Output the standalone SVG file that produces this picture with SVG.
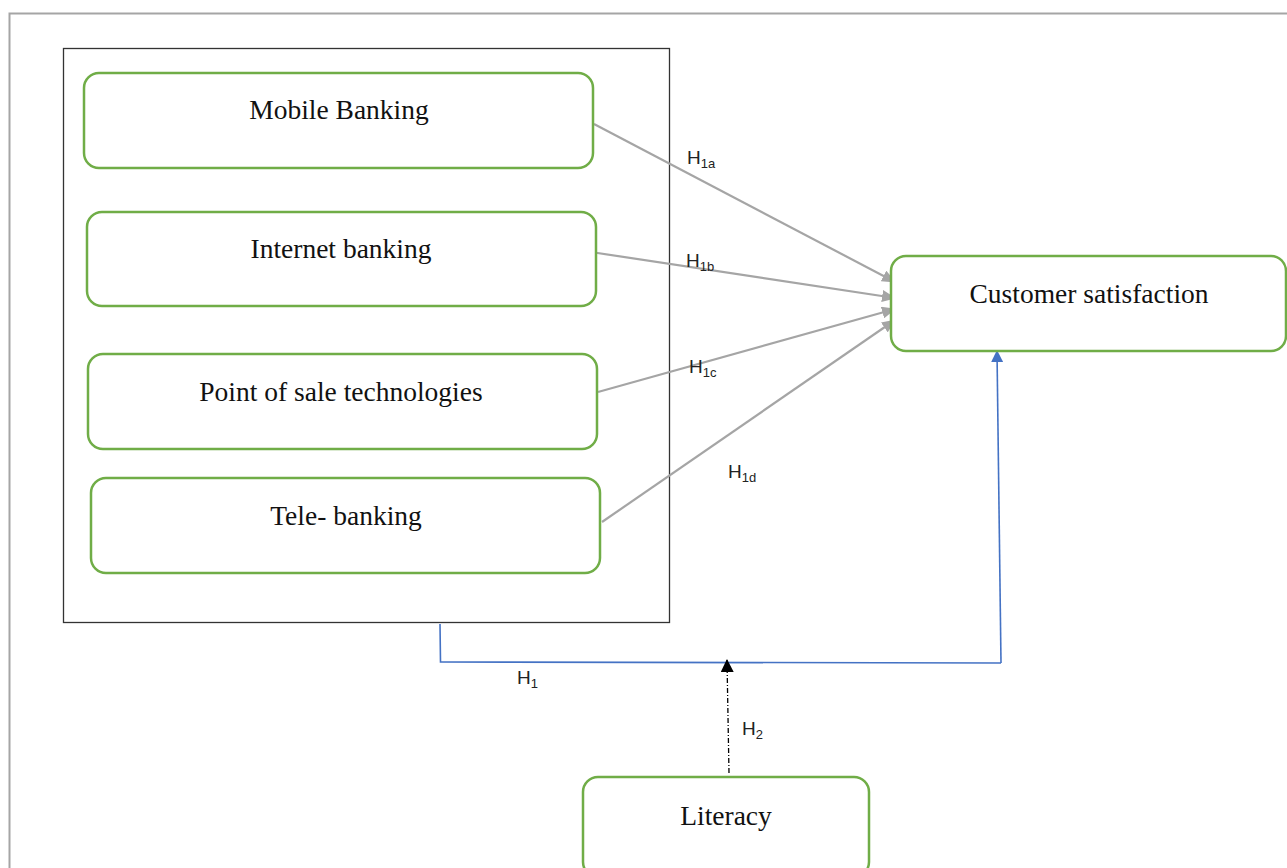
<svg xmlns="http://www.w3.org/2000/svg" width="1287" height="868" viewBox="0 0 1287 868">
  <style>
    .node { fill: #ffffff; stroke: #70AD47; stroke-width: 2.5; }
    .label { font-family: "Liberation Serif", "Times New Roman", serif; font-size: 27.5px; fill: #111111; text-anchor: middle; }
    .hyp { font-family: "Liberation Sans", Arial, sans-serif; font-size: 19px; fill: #222222; }
    .sub { font-size: 13px; }
    .gray { stroke: #A5A5A5; stroke-width: 2.2; fill: none; marker-end: url(#grayArrow); }
    .blue { stroke: #4472C4; stroke-width: 1.6; fill: none; }
  </style>
  <defs>
    <marker id="grayArrow" markerWidth="14" markerHeight="12" refX="13" refY="6" orient="auto" markerUnits="userSpaceOnUse">
      <path d="M0,0 L14,6 L0,12 Z" fill="#A5A5A5"/>
    </marker>
    <marker id="blueArrow" markerWidth="12" markerHeight="12" refX="11" refY="6" orient="auto" markerUnits="userSpaceOnUse">
      <path d="M0,0 L12,6 L0,12 Z" fill="#4472C4"/>
    </marker>
    <marker id="blackArrow" markerWidth="13" markerHeight="13" refX="12" refY="6.5" orient="auto" markerUnits="userSpaceOnUse">
      <path d="M0,0 L13,6.5 L0,13 Z" fill="#000000"/>
    </marker>
  </defs>

  <rect width="1287" height="868" fill="#ffffff"/>
  <!-- page frame -->
  <path d="M9.5,880 L9.5,13.5 L1287,13.5" fill="none" stroke="#A5A5A5" stroke-width="2"/>

  <!-- grouping box for the banking channels -->
  <rect x="63.5" y="48.5" width="606" height="574" fill="none" stroke="#333333" stroke-width="1.3"/>

  <g id="connectors">
    <line class="gray" x1="594" y1="124" x2="895" y2="282"/>
    <line class="gray" x1="591" y1="252" x2="895" y2="298"/>
    <line class="gray" x1="598" y1="392" x2="895" y2="309"/>
    <line class="gray" x1="602" y1="522" x2="895" y2="320"/>
    <polyline class="blue" points="440,624 440.5,662 1001,663"/>
    <line class="blue" x1="1001" y1="663" x2="997" y2="351" marker-end="url(#blueArrow)"/>
    <line x1="729" y1="773" x2="727" y2="660" stroke="#000000" stroke-width="1.3" stroke-dasharray="5,2,1,2" marker-end="url(#blackArrow)"/>

    <text class="hyp" x="687" y="164">H<tspan class="sub" dy="4">1a</tspan></text>
    <text class="hyp" x="686" y="267">H<tspan class="sub" dy="4">1b</tspan></text>
    <text class="hyp" x="689" y="373">H<tspan class="sub" dy="4">1c</tspan></text>
    <text class="hyp" x="728" y="478">H<tspan class="sub" dy="4">1d</tspan></text>
    <text class="hyp" x="517" y="684">H<tspan class="sub" dy="4">1</tspan></text>
    <text class="hyp" x="742" y="735">H<tspan class="sub" dy="4">2</tspan></text>
  </g>

  <g id="mobile-banking">
    <rect class="node" x="84" y="73" width="509" height="95" rx="15"/>
    <text class="label" x="339" y="119">Mobile Banking</text>
  </g>
  <g id="internet-banking">
    <rect class="node" x="87" y="212" width="509" height="94" rx="15"/>
    <text class="label" x="341" y="258">Internet banking</text>
  </g>
  <g id="point-of-sale">
    <rect class="node" x="88" y="354" width="509" height="95" rx="15"/>
    <text class="label" x="341" y="401">Point of sale technologies</text>
  </g>
  <g id="tele-banking">
    <rect class="node" x="91" y="478" width="509" height="95" rx="15"/>
    <text class="label" x="346" y="525">Tele- banking</text>
  </g>
  <g id="customer-satisfaction">
    <rect class="node" x="891" y="256" width="395" height="95" rx="15"/>
    <text class="label" x="1089" y="303">Customer satisfaction</text>
  </g>
  <g id="literacy">
    <rect class="node" x="583" y="777" width="286" height="100" rx="15"/>
    <text class="label" x="726" y="825">Literacy</text>
  </g>
</svg>
